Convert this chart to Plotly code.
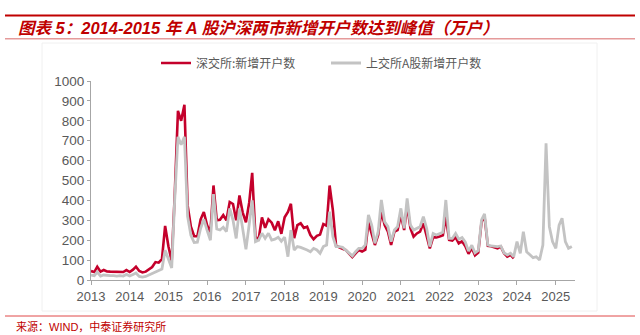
import pandas as pd
import plotly.graph_objects as go

# ---------------- data (万户, monthly, from 2013-01) ----------------
start_month = "2013-01-01"
series_names = ["深交所:新增开户数", "上交所A股新增开户数"]

sz_new = [
    45, 40, 67, 42, 50, 43, 42, 42, 40, 42, 40, 50,            # 2013
    40, 52, 67, 45, 38, 42, 52, 65, 90, 87, 105, 272,          # 2014
    170, 95, 420, 850, 800, 880, 375, 268, 220, 220, 305, 342, # 2015
    275, 240, 475, 300, 303, 326, 300, 392, 382, 300, 425, 340,# 2016
    290, 390, 538, 215, 205, 315, 262, 305, 288, 250, 295, 232,# 2017
    315, 342, 383, 210, 276, 285, 262, 268, 226, 205, 222, 228,# 2018
    281, 273, 475, 350, 172, 163, 157, 150, 134, 115, 134, 150,# 2019
    143, 152, 290, 226, 176, 226, 343, 276, 243, 176, 243, 251,# 2020
    327, 251, 377, 260, 218, 234, 243, 285, 226, 159, 214, 214,# 2021
    218, 225, 318, 201, 198, 214, 184, 195, 170, 132, 160, 124,# 2022
    138, 293, 318, 172, 170, 165, 159, 168, 134, 117, 126, 109,# 2023
]

sh_new = [
    25, 22, 40, 20, 25, 22, 22, 22, 20, 22, 20, 28,            # 2013
    20, 28, 35, 18, 15, 18, 25, 32, 42, 45, 55, 150,           # 2014
    100, 60, 400, 720, 680, 720, 320, 225, 188, 190, 260, 305, # 2015
    250, 200, 432, 256, 251, 265, 243, 360, 301, 209, 360, 268,# 2016
    154, 280, 400, 193, 200, 235, 209, 235, 201, 205, 215, 195,# 2017
    215, 117, 251, 151, 168, 164, 159, 151, 142, 159, 151, 134,# 2018
    168, 176, 343, 218, 168, 168, 164, 151, 134, 121, 142, 159,# 2019
    159, 176, 327, 276, 184, 243, 402, 293, 268, 193, 251, 268,# 2020
    360, 260, 410, 276, 251, 260, 268, 318, 260, 168, 234, 226,# 2021
    234, 240, 402, 209, 209, 234, 205, 213, 190, 145, 175, 136,# 2022
    148, 302, 332, 176, 171, 170, 168, 171, 137, 126, 134, 117,# 2023
    193, 134, 243, 142, 126, 112, 117, 101, 175, 687, 268, 193,# 2024
    159, 276, 310, 193, 159, 168,                              # 2025
]

year_ticks = list(range(2013, 2026))
year_labels = [str(y) for y in year_ticks]
y_ticks = [0, 100, 200, 300, 400, 500, 600, 700, 800, 900, 1000]

title_text = "图表 5：2014-2015 年 A 股沪深两市新增开户数达到峰值（万户）"
source_text = "来源：WIND，中泰证券研究所"

# ---------------- figure ----------------
x_sz = pd.date_range(start_month, periods=len(sz_new), freq="MS")
x_sh = pd.date_range(start_month, periods=len(sh_new), freq="MS")

RED = "#C4002B"
GREY = "#C3C3C3"
AXIS = "#A6A6A6"
TXT = "#595959"

fig = go.Figure()
fig.add_trace(go.Scatter(x=x_sz, y=sz_new, mode="lines", name=series_names[0],
                         line=dict(color=RED, width=2.6)))
fig.add_trace(go.Scatter(x=x_sh, y=sh_new, mode="lines", name=series_names[1],
                         line=dict(color=GREY, width=2.8)))

W, H = 640, 335
L, R, T, B = 91, 65, 81, 55
pw, ph = W - L - R, H - T - B

def px(x):
    return (x - L) / pw

def py(y):
    return (H - B - y) / ph

fig.update_layout(
    width=W, height=H,
    margin=dict(l=L, r=R, t=T, b=B),
    paper_bgcolor="white", plot_bgcolor="white",
    showlegend=True,
    legend=dict(orientation="h", x=px(156), xanchor="left", y=py(63), yanchor="middle",
                font=dict(family="Noto Sans CJK SC", size=12, color=TXT),
                bgcolor="rgba(0,0,0,0)", entrywidth=125, entrywidthmode="pixels",
                traceorder="normal"),
    xaxis=dict(
        type="date",
        range=["2013-01-01", "2025-07-01"],
        tickvals=[f"{y}-01-01" for y in year_ticks],
        ticktext=year_labels,
        showgrid=False, zeroline=False,
        showline=True, linecolor=AXIS, linewidth=1,
        ticks="outside", ticklen=4, tickcolor=AXIS,
        tickfont=dict(family="Liberation Sans, Arial", size=13, color=TXT),
    ),
    yaxis=dict(
        range=[0, 1000],
        tickvals=y_ticks,
        showgrid=False, zeroline=False,
        showline=True, linecolor=AXIS, linewidth=1,
        ticks="outside", ticklen=3, tickcolor=AXIS,
        tickfont=dict(family="Liberation Sans, Arial", size=13.5, color=TXT),
    ),
)

# faint panel frame
fig.add_shape(type="rect", xref="paper", yref="paper",
              x0=px(42), x1=px(597), y0=py(311), y1=py(43),
              line=dict(color="#F0F0F0", width=1), fillcolor="rgba(0,0,0,0)", layer="below")
# title rules
fig.add_shape(type="line", xref="paper", yref="paper",
              x0=px(5), x1=px(635), y0=py(15.5), y1=py(15.5),
              line=dict(color="#C00000", width=2.2))
fig.add_shape(type="line", xref="paper", yref="paper",
              x0=px(5), x1=px(635), y0=py(38.7), y1=py(38.7),
              line=dict(color="#E59A9A", width=1.6))
# source rule
fig.add_shape(type="line", xref="paper", yref="paper",
              x0=px(5), x1=px(635), y0=py(316), y1=py(316),
              line=dict(color="#E04848", width=1))

fig.add_annotation(xref="paper", yref="paper", x=px(16), y=py(28),
                   xanchor="left", yanchor="middle", showarrow=False,
                   text=f"<b><i>{title_text}</i></b>",
                   font=dict(family="Liberation Sans, Noto Sans CJK SC", size=16.5, color="#C00000"))
fig.add_annotation(xref="paper", yref="paper", x=px(14), y=py(326.5),
                   xanchor="left", yanchor="middle", showarrow=False,
                   text=source_text,
                   font=dict(family="Liberation Sans, Noto Sans CJK SC", size=11, color="#C00000"))

fig.write_html("out.html")
